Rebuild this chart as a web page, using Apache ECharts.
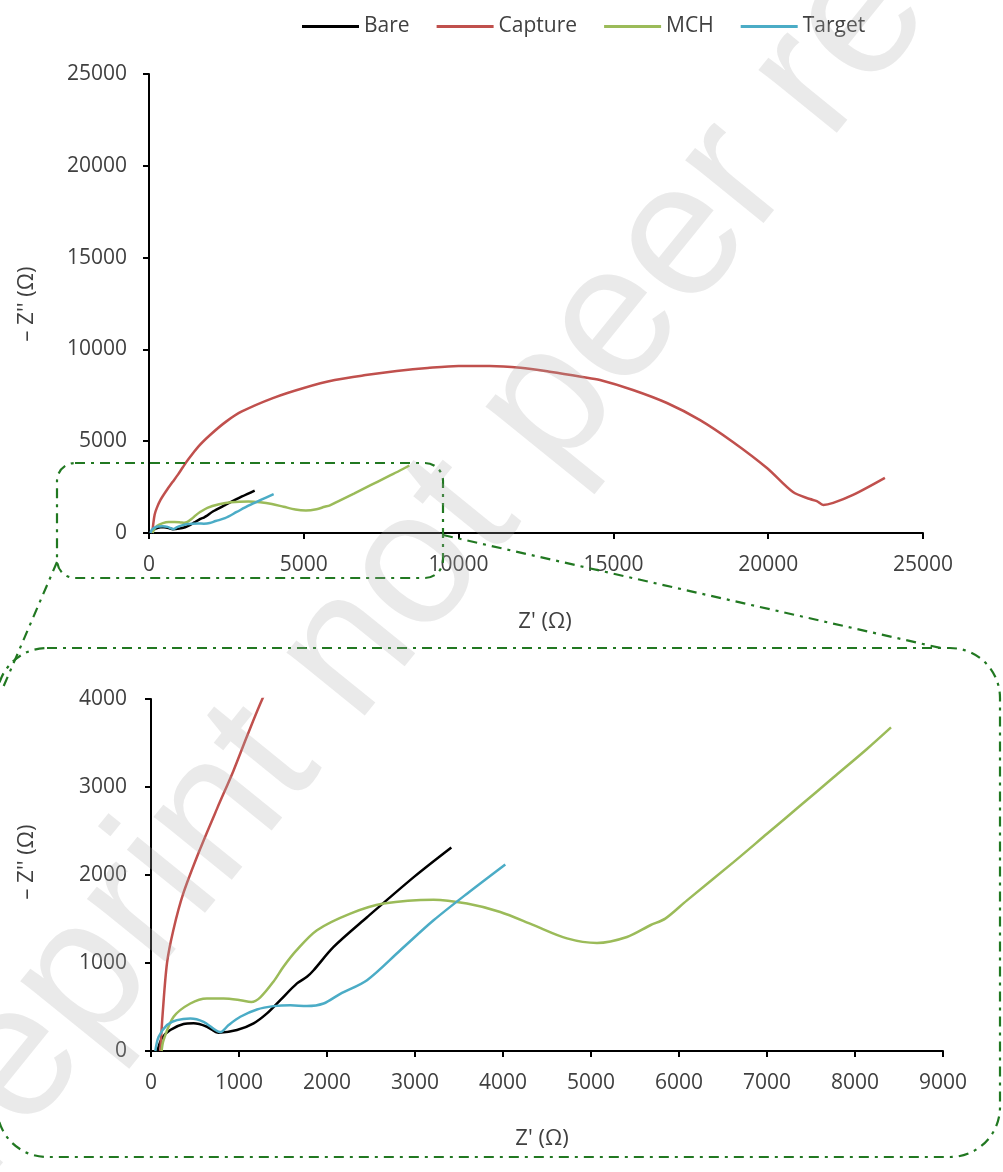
<!DOCTYPE html>
<html>
<head>
<meta charset="utf-8">
<script src="https://cdn.jsdelivr.net/npm/echarts@6/dist/echarts.min.js"></script>
<style>
  html, body { margin: 0; padding: 0; background: #ffffff; }
  #chart { width: 1003px; height: 1172px; }
</style>
</head>
<body>
<div id="chart"></div>
<script>
// Nyquist data: real part Z' (ohm) and negative imaginary part -Z'' (ohm)
const seriesNames = ['Bare', 'Capture', 'MCH', 'Target'];

const bareZre = [72, 125, 219, 370, 484, 636, 768, 977, 1166, 1318, 1469, 1659, 1772, 1848, 2075, 2455, 3003, 3413];
const bareZim = [0, 147, 238, 306, 314, 276, 208, 238, 314, 427, 578, 768, 843, 918, 1183, 1520, 1990, 2313];

const captureZre = [106, 133, 182, 253, 367, 560, 753, 935, 1092, 1265, 1600, 2000, 2500, 3000, 4000, 5000, 6000, 7000, 8000, 9000, 10000, 11000, 12000, 13000, 14000, 14567, 15630, 16730, 17800, 18860, 19960, 20800, 21350, 21570, 21780, 22100, 22740, 23770];
const captureZim = [0, 430, 1000, 1370, 1790, 2300, 2760, 3180, 3580, 4000, 4720, 5380, 6080, 6620, 7350, 7900, 8330, 8600, 8820, 8990, 9100, 9100, 9000, 8770, 8500, 8333, 7790, 7080, 6150, 4960, 3540, 2230, 1850, 1740, 1530, 1640, 2070, 3000];

const mchZre = [120, 143, 257, 447, 636, 825, 1015, 1140, 1242, 1393, 1507, 1650, 1886, 2265, 2643, 3211, 3591, 3969, 4348, 4727, 5068, 5409, 5674, 5844, 6091, 6620, 7000, 7379, 7757, 8136, 8409];
const mchZim = [0, 125, 389, 540, 597, 597, 578, 557, 610, 790, 960, 1140, 1372, 1561, 1675, 1720, 1675, 1580, 1430, 1280, 1228, 1296, 1429, 1504, 1712, 2146, 2468, 2789, 3110, 3432, 3677];

const targetZre = [49, 87, 182, 295, 447, 598, 788, 882, 1015, 1204, 1393, 1583, 1772, 1961, 2151, 2455, 2833, 3211, 3591, 4026];
const targetZim = [0, 162, 295, 351, 370, 332, 215, 295, 389, 472, 510, 521, 510, 540, 650, 805, 1145, 1485, 1788, 2120];

// Axis ranges
const fullMax = 25000, fullStep = 5000;
const zoomXMax = 9000, zoomXStep = 1000;
const zoomYMax = 4000, zoomYStep = 1000;

const colors = { Bare: '#000000', Capture: '#c0504d', MCH: '#9bbb59', Target: '#4bacc6' };
const pairs = (xs, ys) => xs.map((x, i) => [x, ys[i]]);
const dataByName = {
  Bare: pairs(bareZre, bareZim),
  Capture: pairs(captureZre, captureZim),
  MCH: pairs(mchZre, mchZim),
  Target: pairs(targetZre, targetZim)
};

const FONT = '"Open Sans", "Noto Sans", sans-serif';
const TEXT = '#404040';
const BOX = '#217821';
const DASH = [10, 6, 3, 6];

function labelStyle(margin) {
  return { color: TEXT, fontSize: 21, fontFamily: FONT, margin, formatter: v => String(v) };
}
function valueAxis(gridIndex, max, step, margin) {
  return {
    type: 'value', gridIndex, min: 0, max, interval: step,
    splitLine: { show: false },
    axisLine: { show: true, onZero: false, lineStyle: { color: '#000', width: 2 } },
    axisTick: { show: true, length: 6, lineStyle: { color: '#000', width: 2 } },
    axisLabel: labelStyle(margin)
  };
}
// companion axis that draws the inner half of each tick so ticks cross the axis line
function innerTicks(gridIndex, max, step) {
  return {
    type: 'value', gridIndex, min: 0, max, interval: step,
    splitLine: { show: false },
    axisLine: { show: false },
    axisLabel: { show: false },
    axisTick: { show: true, inside: true, length: 6, lineStyle: { color: '#000', width: 2 } }
  };
}

const series = [];
[[0, 0], [2, 2]].forEach(([xi, yi]) => {
  seriesNames.forEach(name => {
    series.push({
      name, type: 'line', xAxisIndex: xi, yAxisIndex: yi,
      data: dataByName[name], showSymbol: false, smooth: 0.3,
      lineStyle: { color: colors[name], width: 2.5 },
      itemStyle: { color: colors[name] },
      clip: true, z: 3
    });
  });
});

function dashedLine(x1, y1, x2, y2) {
  return { type: 'line', z: 50, shape: { x1, y1, x2, y2 },
    style: { stroke: BOX, lineWidth: 2.2, lineDash: DASH } };
}
function title(text, x, y, rotation) {
  return { type: 'text', x, y, rotation: rotation || 0, z: 20,
    style: { text, fill: TEXT, font: '22px ' + FONT, align: 'center', verticalAlign: 'middle' } };
}

const option = {
  animation: false,
  backgroundColor: '#ffffff',
  legend: {
    data: seriesNames, top: 11, left: 297, icon: 'rect', itemWidth: 57, itemHeight: 3, itemGap: 27,
    textStyle: { color: TEXT, fontSize: 21, fontFamily: FONT }
  },
  grid: [
    { left: 149, top: 74, width: 774, height: 459 },
    { left: 151, top: 699, width: 792, height: 352 }
  ],
  xAxis: [
    valueAxis(0, fullMax, fullStep, 22),
    innerTicks(0, fullMax, fullStep),
    valueAxis(1, zoomXMax, zoomXStep, 22),
    innerTicks(1, zoomXMax, zoomXStep)
  ],
  yAxis: [
    valueAxis(0, fullMax, fullStep, 22),
    innerTicks(0, fullMax, fullStep),
    valueAxis(1, zoomYMax, zoomYStep, 24),
    innerTicks(1, zoomYMax, zoomYStep)
  ],
  series,
  graphic: [
    // axis titles
    title("Z' (Ω)", 545, 622),
    title("Z' (Ω)", 542, 1139),
    title("– Z'' (Ω)", 27, 304, Math.PI / 2),
    title("– Z'' (Ω)", 27, 862, Math.PI / 2),
    // zoom frames and connectors
    { type: 'rect', z: 50, shape: { x: 57, y: 463, width: 386, height: 115, r: 18 },
      style: { fill: 'none', stroke: BOX, lineWidth: 2.2, lineDash: DASH } },
    { type: 'rect', z: 50, shape: { x: -3, y: 648, width: 1003, height: 509, r: 50 },
      style: { fill: 'none', stroke: BOX, lineWidth: 2.2, lineDash: DASH } },
    dashedLine(57, 562, 2, 690),
    dashedLine(443, 535, 945, 649),
    // watermark
    { type: 'text', x: 565, y: 385, rotation: 51 * Math.PI / 180, z: 100,
      style: { text: 'Preprint not peer reviewed', fill: 'rgba(170,170,170,0.25)',
        font: '190px "Liberation Sans", Arial, sans-serif', align: 'center', verticalAlign: 'middle' } }
  ]
};

const chart = echarts.init(document.getElementById('chart'), null, { renderer: 'canvas' });
chart.setOption(option);
</script>
</body>
</html>
